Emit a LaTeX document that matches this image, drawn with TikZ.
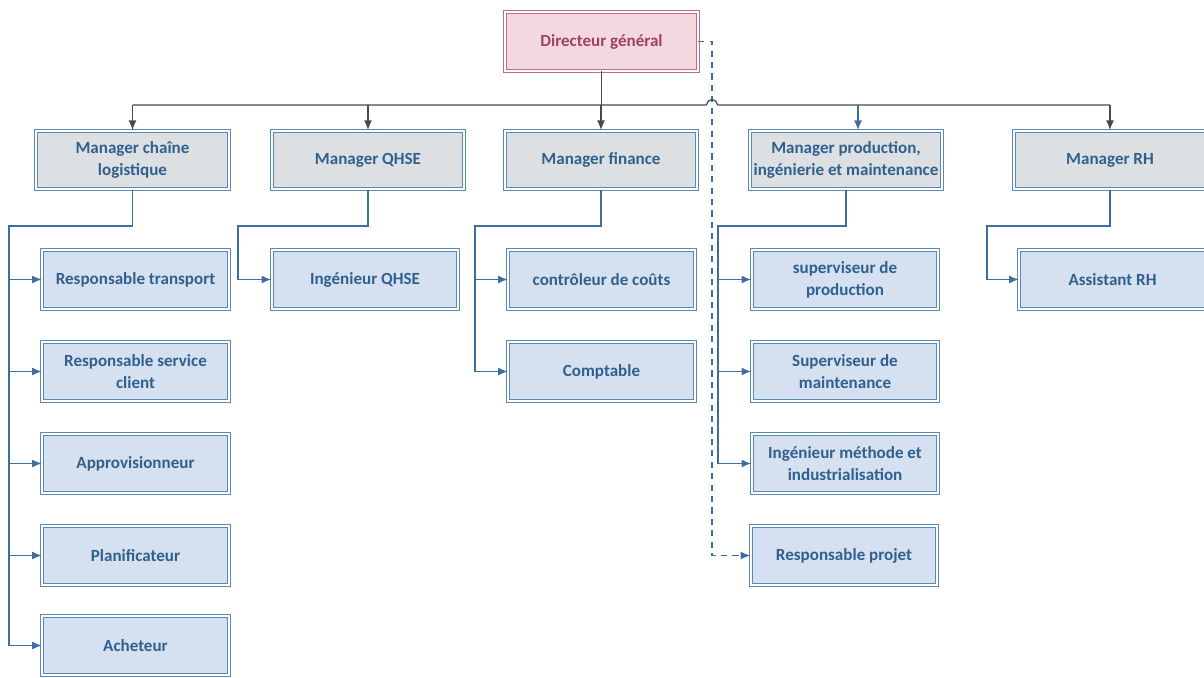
\documentclass[tikz,border=0pt]{standalone}
\usepackage{fontspec}
\setmainfont{Carlito}
\usetikzlibrary{arrows.meta}
\definecolor{boxline}{HTML}{5A89B5}
\definecolor{boxtext}{HTML}{30608E}
\definecolor{mgrfill}{HTML}{DCE0E3}
\definecolor{subfill}{HTML}{D5E0F0}
\definecolor{dgline}{HTML}{BD6C88}
\definecolor{dgfill}{HTML}{F3D8E0}
\definecolor{dgtext}{HTML}{A04064}
\definecolor{busgrey}{HTML}{4A4A4A}
\definecolor{linkblue}{HTML}{3E6E9E}
\begin{document}
\begin{tikzpicture}[x=0.02cm, y=-0.02cm, >={Latex[length=5.5pt,width=4.5pt]},
    box/.style = {draw=boxline, double=white, double distance=1.1pt, line width=0.6pt, align=center,
                  font=\bfseries\fontsize{9.7}{12.5}\selectfont, text=boxtext, inner sep=2pt,
                  minimum width=3.85cm, minimum height=1.175cm},
    dg/.style = {box, draw=dgline, fill=dgfill, text=dgtext},
    mgr/.style = {box, fill=mgrfill},
    sub/.style = {box, fill=subfill, minimum width=3.73cm},
    top/.style = {draw=busgrey, line width=0.7pt},
    link/.style = {draw=linkblue, line width=0.7pt},
    dashlink/.style = {link, dash pattern=on 3.5pt off 3pt}]
    \clip (0,0) rectangle (1204,677);
    \useasboundingbox (0,0) rectangle (1204,677);

    % direction et managers
    \node[dg] (dg) at (601.5,41.5) {Directeur général};
    \node[mgr] (mcl) at (132.5,160) {Manager chaîne\\logistique};
    \node[mgr] (mqh) at (368,160) {Manager QHSE};
    \node[mgr] (mfi) at (601,160) {Manager finance};
    \node[mgr] (mpr) at (846,160) {Manager production,\\ingénierie et maintenance};
    \node[mgr] (mrh) at (1110,160) {Manager RH};

    % postes
    \node[sub] (rt) at (135.5,279.5) {Responsable transport};
    \node[sub] (rsc) at (135.5,371.5) {Responsable service\\client};
    \node[sub] (app) at (135.5,463.5) {Approvisionneur};
    \node[sub] (pla) at (135.5,555.5) {Planificateur};
    \node[sub] (ach) at (135.5,645.5) {Acheteur};
    \node[sub] (iqh) at (365,279.5) {Ingénieur QHSE};
    \node[sub] (cdc) at (601.5,279.5) {contrôleur de coûts};
    \node[sub] (cpt) at (601.5,371.5) {Comptable};
    \node[sub] (spr) at (845,279.5) {superviseur de\\production};
    \node[sub] (sma) at (845,371.5) {Superviseur de\\maintenance};
    \node[sub] (imi) at (845,463.5) {Ingénieur méthode et\\industrialisation};
    \node[sub] (rp) at (844,555.5) {Responsable projet};
    \node[sub] (arh) at (1112.5,279.5) {Assistant RH};

    % bus et lignes de retour
    \coordinate (bus) at (0,105);
    \coordinate (dx) at (712,0);
    \coordinate (lx) at (9,226);
    \coordinate (qx) at (238,226);
    \coordinate (fx) at (475,226);
    \coordinate (px) at (718,226);
    \coordinate (hx) at (987,226);

    \draw[dashlink, ->] (dg.east) -| (dx |- rp.west) -- (rp.west);

    \draw[top] (dg.south) -- (dg.south |- bus);
    \draw[top] (mcl.north |- bus) -- ([xshift=-0.11cm]dx |- bus)
        arc[start angle=180, end angle=0, radius=0.11cm] -- (mrh.north |- bus);
    \foreach \m in {mcl, mqh, mfi, mrh}
        \draw[top, ->] (\m.north |- bus) -- (\m.north);
    \draw[link, ->] ([xshift=0.24cm]mpr.north |- bus) -- ([xshift=0.24cm]mpr.north);

    \draw[link] (mcl.south) |- (lx) -- (lx |- ach.west);
    \foreach \n in {rt, rsc, app, pla, ach}
        \draw[link, ->] (lx |- \n.west) -- (\n.west);
    \draw[link, ->] (mqh.south) |- (qx) |- (iqh.west);
    \draw[link] (mfi.south) |- (fx) -- (fx |- cpt.west);
    \foreach \n in {cdc, cpt}
        \draw[link, ->] (fx |- \n.west) -- (\n.west);
    \draw[link] (mpr.south) |- (px) -- (px |- imi.west);
    \foreach \n in {spr, sma, imi}
        \draw[link, ->] (px |- \n.west) -- (\n.west);
    \draw[link, ->] (mrh.south) |- (hx) |- (arh.west);
\end{tikzpicture}
\end{document}
